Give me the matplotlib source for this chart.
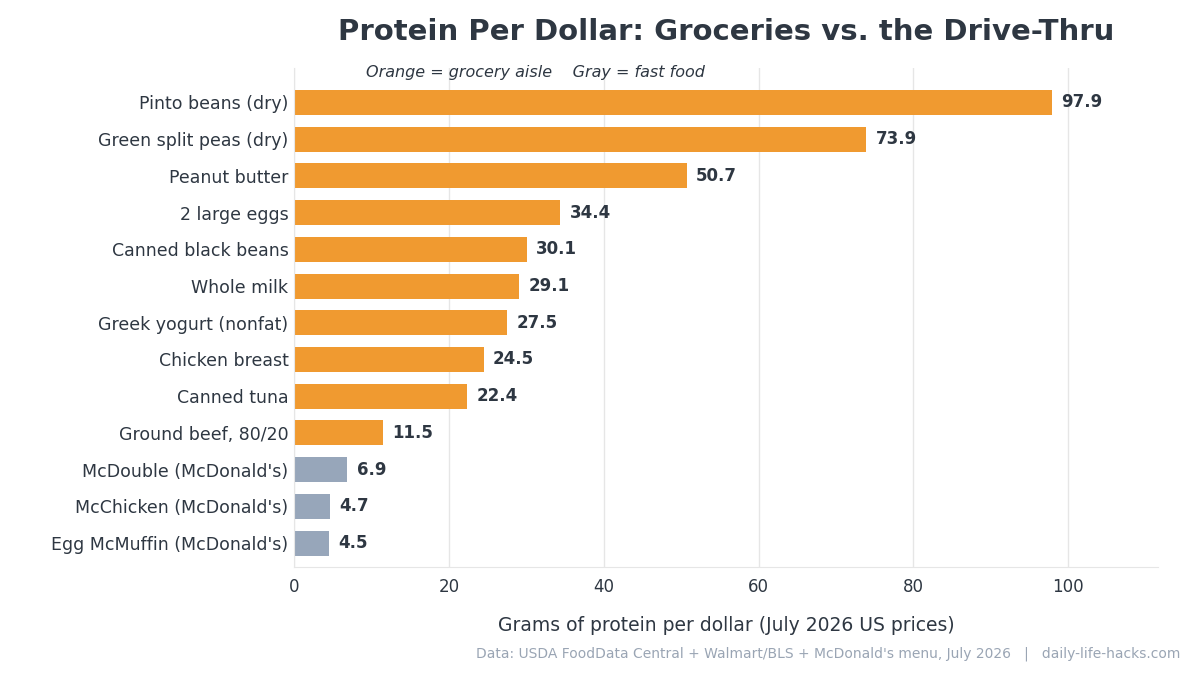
import matplotlib
matplotlib.use("Agg")
import matplotlib.pyplot as plt

foods = ["Pinto beans (dry)", "Green split peas (dry)", "Peanut butter", "2 large eggs",
         "Canned black beans", "Whole milk", "Greek yogurt (nonfat)", "Chicken breast",
         "Canned tuna", "Ground beef, 80/20", "McDouble (McDonald's)",
         "McChicken (McDonald's)", "Egg McMuffin (McDonald's)"]
values = [97.9, 73.9, 50.7, 34.4, 30.1, 29.1, 27.5, 24.5, 22.4, 11.5, 6.9, 4.7, 4.5]
fast_food = [False] * 10 + [True] * 3

orange = "#F09A30"
gray = "#97A6BA"
dark = "#2E3742"

fig = plt.figure(figsize=(12, 6.75), dpi=100)
ax = fig.add_axes([0.245, 0.16, 0.72, 0.74])

colors = [gray if f else orange for f in fast_food]
y = list(range(len(foods)))
ax.barh(y, values, height=0.68, color=colors, zorder=2)
for yi, v in zip(y, values):
    ax.text(v + 1.2, yi, f"{v}", va="center", ha="left", fontsize=12,
            fontweight="bold", color=dark)

ax.set_yticks(y)
ax.set_yticklabels(foods, fontsize=12.5, color=dark)
ax.invert_yaxis()
ax.set_ylim(len(foods) - 0.35, -0.95)
ax.set_xlim(0, 111.6)
ax.set_xticks([0, 20, 40, 60, 80, 100])
ax.tick_params(axis="x", labelsize=12, colors=dark, length=0, pad=8)
ax.tick_params(axis="y", length=0, pad=4)
ax.grid(axis="x", color="#e6e6e6", linewidth=1, zorder=0)
for s in ["top", "right"]:
    ax.spines[s].set_visible(False)
ax.spines["left"].set_color("#e6e6e6")
ax.spines["bottom"].set_color("#e6e6e6")
ax.set_xlabel("Grams of protein per dollar (July 2026 US prices)", fontsize=13.5,
              color=dark, labelpad=14)

fig.text(0.605, 0.952, "Protein Per Dollar: Groceries vs. the Drive-Thru",
         ha="center", va="center", fontsize=21, fontweight="bold", color=dark)
fig.text(0.446, 0.893, "Orange = grocery aisle    Gray = fast food", ha="center",
         va="center", fontsize=11.5, style="italic", color=dark)
fig.text(0.984, 0.032,
         "Data: USDA FoodData Central + Walmart/BLS + McDonald's menu, July 2026   |   daily-life-hacks.com",
         ha="right", va="center", fontsize=10, color="#9aa5b4")

fig.savefig("out.png", dpi=100)
